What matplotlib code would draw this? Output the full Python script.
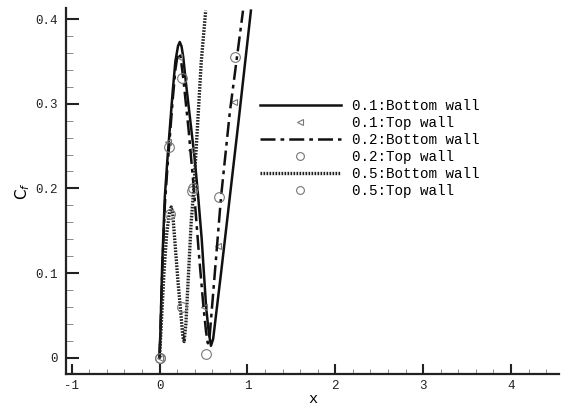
import matplotlib
matplotlib.use("Agg")
import matplotlib.pyplot as plt
from matplotlib.ticker import MultipleLocator

# Bottom wall curves
x_bot_01 = [0, 0.01, 0.03, 0.06, 0.09, 0.12, 0.15, 0.18, 0.21, 0.23, 0.25, 0.27, 0.30,
            0.35, 0.40, 0.44, 0.48, 0.53, 0.56, 0.585, 0.61, 0.70, 0.80, 0.90, 1.04]
y_bot_01 = [0, 0.03, 0.11, 0.19, 0.235, 0.275, 0.315, 0.35, 0.368, 0.373, 0.368, 0.355, 0.325,
            0.28, 0.235, 0.19, 0.14, 0.06, 0.03, 0.014, 0.022, 0.10, 0.19, 0.28, 0.41]

x_bot_02 = [0, 0.01, 0.03, 0.06, 0.09, 0.12, 0.15, 0.18, 0.20, 0.22, 0.24, 0.27, 0.33,
            0.39, 0.45, 0.50, 0.53, 0.55, 0.57, 0.70, 0.80, 0.95]
y_bot_02 = [0, 0.03, 0.10, 0.18, 0.225, 0.265, 0.305, 0.34, 0.354, 0.36, 0.355, 0.33, 0.27,
            0.20, 0.12, 0.06, 0.03, 0.017, 0.025, 0.19, 0.29, 0.41]

x_bot_05 = [0, 0.02, 0.05, 0.08, 0.11, 0.133, 0.15, 0.18, 0.21, 0.24, 0.265, 0.28, 0.30,
            0.33, 0.36, 0.39, 0.43, 0.475, 0.525]
y_bot_05 = [0, 0.04, 0.10, 0.145, 0.17, 0.178, 0.17, 0.13, 0.09, 0.055, 0.025, 0.019, 0.04,
            0.10, 0.16, 0.20, 0.27, 0.35, 0.41]

# Top wall samples
x_top_01 = [0, 0.10, 0.22, 0.36, 0.51, 0.67, 0.85]
y_top_01 = [0, 0.255, 0.355, 0.245, 0.06, 0.132, 0.302]

x_top_02 = [0, 0.11, 0.25, 0.37, 0.53, 0.68, 0.86]
y_top_02 = [0, 0.249, 0.331, 0.197, 0.004, 0.19, 0.355]

x_top_05 = [0, 0.12, 0.25, 0.38]
y_top_05 = [0, 0.17, 0.06, 0.2]

mono = "Liberation Mono"

fig = plt.figure(figsize=(5.62, 4.07), dpi=100)
ax = fig.add_axes([0.1174, 0.0811, 0.877, 0.899])

ax.plot(x_bot_01, y_bot_01, color="#111111", lw=1.8, label="0.1:Bottom wall")
ax.plot(x_top_01, y_top_01, ls="none", marker="<", ms=5, mfc="none", mec="#777777",
        mew=0.8, label="0.1:Top wall")
ax.plot(x_bot_02, y_bot_02, color="#111111", lw=1.8, ls=(0, (6, 2, 1.5, 2)),
        label="0.2:Bottom wall")
ax.plot(x_top_02, y_top_02, ls="none", marker="o", ms=7, mfc="none", mec="#777777",
        mew=0.8, label="0.2:Top wall")
ax.plot(x_bot_05, y_bot_05, color="#222222", lw=2.4, ls=(0, (0.5, 0.4)),
        label="0.5:Bottom wall")
ax.plot(x_top_05, y_top_05, ls="none", marker="o", ms=7, mfc="none", mec="#777777",
        mew=0.8, label="0.5:Top wall")

ax.set_xlim(-1.065, 4.545)
ax.set_ylim(-0.0193, 0.413)

for side in ["top", "right"]:
    ax.spines[side].set_visible(False)
for side in ["left", "bottom"]:
    ax.spines[side].set_linewidth(1.6)
    ax.spines[side].set_color("#222222")

ax.xaxis.set_minor_locator(MultipleLocator(0.2))
ax.yaxis.set_minor_locator(MultipleLocator(0.02))
ax.set_xticks([-1, 0, 1, 2, 3, 4])
ax.set_xticklabels(["-1", "0", "1", "2", "3", "4"], fontfamily=mono, fontsize=9)
ax.set_yticks([0, 0.1, 0.2, 0.3, 0.4])
ax.set_yticklabels(["0", "0.1", "0.2", "0.3", "0.4"], fontfamily=mono, fontsize=9)

ax.tick_params(axis="y", which="major", direction="in", length=9, width=1.5, pad=6,
               colors="#222222")
ax.tick_params(axis="y", which="minor", direction="in", length=5, width=0.6,
               colors="#777777")
ax.tick_params(axis="x", which="major", direction="in", length=7, width=1.5, pad=4,
               colors="#222222")
ax.tick_params(axis="x", which="minor", direction="in", length=3.5, width=0.6,
               colors="#777777")

ax.set_xlabel("x", fontfamily=mono, fontsize=11, labelpad=0)
ax.set_ylabel("C$_f$", fontsize=11, labelpad=2)

ax.legend(loc="upper left", bbox_to_anchor=(0.38, 0.77), frameon=False,
          prop={"family": mono, "size": 10.3}, handlelength=5.6, handletextpad=0.8,
          labelspacing=0.2, borderpad=0, markerscale=0.8)

fig.savefig("out.png", dpi=100)
